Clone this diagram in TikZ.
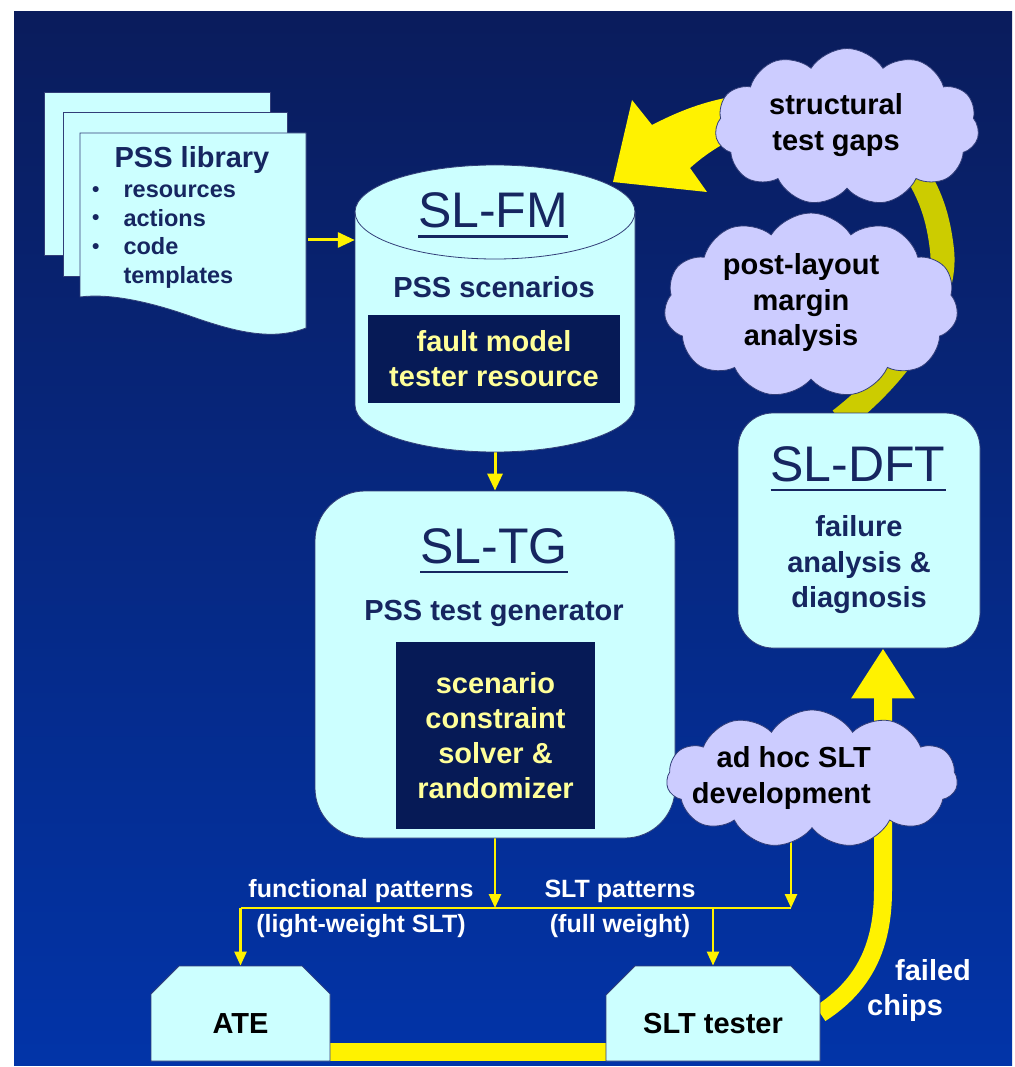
\documentclass[tikz,border=0pt]{standalone}
\usepackage{fontspec}
\setmainfont{Liberation Sans}
\usetikzlibrary{shapes.symbols,shapes.misc,arrows.meta}
\definecolor{bgtop}{RGB}{10,28,92}
\definecolor{bgbot}{RGB}{2,52,168}
\definecolor{pale}{RGB}{204,255,255}
\definecolor{txtnavy}{RGB}{22,38,96}
\definecolor{inkbox}{RGB}{6,26,86}
\definecolor{paleyel}{RGB}{255,255,153}
\definecolor{lilac}{RGB}{204,204,255}
\definecolor{edgeblue}{RGB}{50,62,120}
\definecolor{olivearc}{RGB}{204,204,0}
\pgfdeclarelayer{backdrop}
\pgfdeclarelayer{flow}
\pgfsetlayers{backdrop,flow,main}
\newcommand{\ttlul}[1]{\setbox0=\hbox{#1}\rlap{\rule[-10pt]{\wd0}{2.5pt}}\box0}
\newcommand{\lowtxt}[1]{\raisebox{-19.5pt}[0pt][0pt]{#1}}
\newcommand{\libdot}{\raisebox{1.5pt}{\fontsize{21}{21}\selectfont\textbullet}}
\tikzset{
  paper/.style={draw=edgeblue, fill=pale, line width=0.8pt},
  roundbox/.style={paper, rounded corners=#1},
  solverbox/.style={fill=inkbox, text=paleyel, inner sep=0, font=\bfseries\fontsize{29}{35}\selectfont, align=center},
  ttl/.style={inner sep=0, text=txtnavy, font=\fontsize{50}{50}\selectfont},
  sub/.style={inner sep=0, text=txtnavy, font=\bfseries\fontsize{29}{35.5}\selectfont, align=center},
  cloudy/.style={cloud, cloud puffs=11, cloud puff arc=115, cloud ignores aspect, draw=edgeblue, fill=lilac, line width=0.8pt},
  cloudtxt/.style={inner sep=0, text=black, font=\bfseries\fontsize{29}{35.5}\selectfont, align=center},
  tester/.style={paper, chamfered rectangle, chamfered rectangle corners={north west,north east}, chamfered rectangle xsep=30pt, chamfered rectangle ysep=29pt, minimum height=95pt, inner sep=0, font=\bfseries\fontsize{29}{29}\selectfont},
  lbl/.style={inner sep=0, text=white, font=\bfseries\fontsize{25}{35}\selectfont, align=center},
  feed/.style={draw=yellow, line width=3pt, -{Triangle[width=15pt,length=17pt]}},
  tap/.style={draw=yellow, line width=2.5pt, -{Triangle[width=12pt,length=14pt]}},
  bus/.style={draw=yellow, line width=2.5pt},
  fatarrow/.style={draw=yellow, line width=18pt, -{Triangle[width=60pt,length=50pt]}}
}
\begin{document}
\begin{tikzpicture}[x=1pt,y=-1pt]
\useasboundingbox (0,0) rectangle (1014,1067);
\begin{pgfonlayer}{backdrop}
\fill[white] (0,0) rectangle (1014,1067);
\shade[top color=bgtop, bottom color=bgbot] (14,12) rectangle (1012,1065);
\end{pgfonlayer}

\filldraw[paper] (44,92) rectangle (270,255);
\filldraw[paper] (63,112) rectangle (287,276);
\filldraw[paper] (80,133) -- (306,133) -- (306,328) .. controls (270,342) and (230,330) .. (190,316) .. controls (150,302) and (110,293) .. (80,297) -- cycle;
\node[sub, anchor=base] (libttl) at (192,168) {PSS library};
\node[anchor=west, inner sep=0, text=txtnavy, font=\bfseries\fontsize{23.5}{28.5}\selectfont] (libitems) at (92,235) {\begin{tabular}{@{}l@{\hspace{24pt}}l@{}}
\libdot & resources\\
\libdot & actions\\
\libdot & code\\
 & templates
\end{tabular}};
\coordinate (libout) at (308,240);

\filldraw[paper] (355,212) -- (355,405) arc[start angle=180, end angle=0, x radius=140, y radius=47] -- (635,212) arc[start angle=0, end angle=-180, x radius=140, y radius=47] -- cycle;
\draw[draw=edgeblue, line width=0.8pt] (355,212) arc[start angle=180, end angle=0, x radius=140, y radius=47];
\node[minimum width=280pt, minimum height=287pt, inner sep=0] (fm) at (495,308.5) {};
\node[ttl, anchor=base] (fmttl) at (493,228) {\ttlul{SL-FM}};
\node[sub, anchor=base] (fmsub) at (494,297) {PSS scenarios};
\node[solverbox, minimum width=252pt, minimum height=88pt] (fmbox) at (494,359) {fault model\\tester resource};

\node[roundbox=50pt, minimum width=360pt, minimum height=347pt] (tg) at (495,664.5) {};
\node[ttl, anchor=base] (tgttl) at (494,563) {\ttlul{SL-TG}};
\node[sub, anchor=base] (tgsub) at (494,620) {PSS test generator};
\node[solverbox, minimum width=199pt, minimum height=187pt] (tgbox) at (495.5,735.5) {scenario\\constraint\\solver \&\\randomizer};

\node[roundbox=35pt, minimum width=242pt, minimum height=235pt] (dft) at (859,530.5) {};
\node[ttl, anchor=base] (dftttl) at (858,481) {\ttlul{SL-DFT}};
\node[sub] (dftsub) at (859,565) {failure\\analysis \&\\diagnosis};

\node[cloudy, minimum width=264pt, minimum height=157pt] (gaps) at (847,127) {};
\node[cloudtxt] (gapstxt) at (836,125) {structural\\test gaps};
\node[cloudy, minimum width=294pt, minimum height=185pt] (margin) at (811,305.5) {};
\node[cloudtxt] (margintxt) at (801,303) {post-layout\\margin\\analysis};
\node[cloudy, minimum width=291pt, minimum height=138pt] (adhoc) at (812,779) {};
\node[cloudtxt, align=right, anchor=east] (adhoctxt) at (871,778) {ad hoc SLT\\development};

\node[tester, minimum width=179pt] (ate) at (240.5,1013.5) {\lowtxt{ATE}};
\node[tester, minimum width=214pt] (slt) at (713,1013.5) {\lowtxt{SLT tester}};

\node[lbl] (funclbl) at (361,909) {functional patterns\\(light-weight SLT)};
\node[lbl] (sltlbl) at (620,909) {SLT patterns\\(full weight)};
\node[lbl, align=left, anchor=west, font=\bfseries\fontsize{29}{35}\selectfont] (chips) at (867,990) {\hspace*{28pt}failed\\chips};

\begin{pgfonlayer}{flow}
\draw[line width=24pt, olivearc] (840,420) .. controls (905,370) and (948,300) .. (942,250) .. controls (938,215) and (930,195) .. (915,170);
\fill[yellow] (613,182) -- (632,100) -- (652,125) .. controls (685,108) and (715,97) .. (760,93) -- (760,130) .. controls (735,135) and (710,150) .. (690,168) -- (707,192) -- cycle;
\draw[fatarrow] (slt.east) .. controls (865,985) and (883,945) .. (883,890) -- ([xshift=24pt]dft.south);
\draw[line width=18pt, yellow] ([yshift=9pt]ate.south east) -- ([yshift=9pt]slt.south west);
\draw[feed] (libout) -- (libout -| fm.west);
\draw[feed] (fm.south) -- (tg.north);
\coordinate (busR) at (791,908);
\draw[bus] (ate.north |- busR) -- (busR);
\draw[tap] (tg.center) -- (tg.center |- busR);
\draw[tap] ([xshift=-21pt]adhoc.center) -- (busR);
\draw[tap] (ate.north |- busR) -- (ate.north);
\draw[tap] (slt.north |- busR) -- (slt.north);
\end{pgfonlayer}
\end{tikzpicture}
\end{document}
